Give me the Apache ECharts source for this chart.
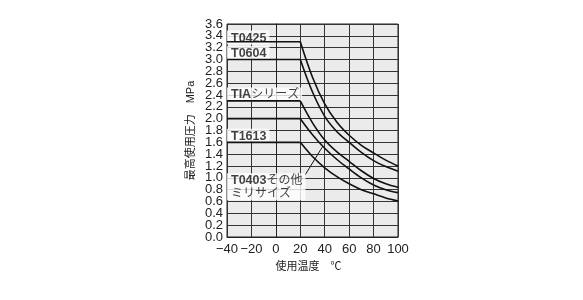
<!DOCTYPE html>
<html>
<head>
<meta charset="utf-8">
<script src="https://cdn.jsdelivr.net/npm/echarts@6/dist/echarts.min.js"></script>
<style>
html,body{margin:0;padding:0;background:#fff;}
#c{width:583px;height:300px;}
</style>
</head>
<body>
<div id="c"></div>
<script>
// ---- data ----
const xTicks = [-40, -20, 0, 20, 40, 60, 80, 100];
const yMin = 0, yMax = 3.6, yStep = 0.2;
const flatTemps = [-40, 20];
const curveTemps = [20, 30, 40, 50, 60, 70, 80, 90, 100];
const t0425 = [3.3, 2.7, 2.25, 1.94, 1.72, 1.55, 1.42, 1.3, 1.2];
const t0604 = [3.0, 2.45, 2.04, 1.78, 1.6, 1.43, 1.29, 1.19, 1.11];
const tia   = [2.3, 1.93, 1.64, 1.44, 1.28, 1.12, 0.99, 0.9, 0.84];
const t0403 = [2.0, 1.73, 1.5, 1.31, 1.15, 1.0, 0.88, 0.8, 0.75];
const t1613 = [1.6, 1.36, 1.17, 1.02, 0.9, 0.8, 0.73, 0.66, 0.61];
const curves = [t0425, t0604, tia, t0403, t1613];
// label texts and their anchor values [temp, pressure]
const labelTexts = ['{b|T0425}', '{b|T0604}', '{b|TIA}シリーズ', '{b|T1613}', '{b|T0403}その他\nミリサイズ'];
const labelAnchors = [[-40, 3.37], [-40, 3.11], [-40, 2.41], [-40, 1.71], [-40, 0.85]];
const leader = [[24, 1.05], [38, 1.52]];

const FONT = "'Liberation Sans', 'Noto Sans CJK JP', Arial, sans-serif";
const chart = echarts.init(document.getElementById('c'), null, {renderer: 'canvas'});

const series = [];
curves.forEach(function (arr) {
  series.push({
    type: 'line', z: 4, silent: true, symbol: 'none',
    lineStyle: {color: '#111', width: 1.6},
    data: flatTemps.map(function (t) { return [t, arr[0]]; })
  });
  series.push({
    type: 'line', z: 4, silent: true, symbol: 'none', smooth: 0.35,
    lineStyle: {color: '#111', width: 1.6},
    data: curveTemps.map(function (t, i) { return [t, arr[i]]; })
  });
});
series.push({
  type: 'line', z: 3, silent: true, symbol: 'none',
  lineStyle: {color: '#111', width: 1},
  data: leader
});
series.push({
  type: 'scatter', z: 3, silent: true, symbolSize: 0,
  data: labelAnchors.map(function (a, i) {
    return {value: a, label: {formatter: labelTexts[i]}};
  }),
  label: {
    show: true, position: 'right', distance: 0,
    backgroundColor: '#fff', padding: [1, 3, 0, 4],
    color: '#111', fontFamily: FONT, fontSize: 12, lineHeight: 13,
    rich: {b: {fontWeight: 'bold', fontSize: 12.5, fontFamily: FONT, color: '#111'}}
  }
});

const yLabelStyle = {margin: 4, color: '#222', fontSize: 13, fontFamily: FONT, hideOverlap: false};

chart.setOption({
  animation: false,
  backgroundColor: '#fff',
  grid: {left: 227, right: 185, top: 24, bottom: 63, show: true,
         backgroundColor: '#ebebeb', borderColor: '#222', borderWidth: 1},
  xAxis: {
    type: 'value', min: xTicks[0], max: xTicks[xTicks.length - 1], interval: 20,
    axisLine: {show: true, lineStyle: {color: '#222', width: 1}},
    axisTick: {show: false},
    splitLine: {show: true, lineStyle: {color: '#333', width: 1}},
    axisLabel: {margin: 6, color: '#222', fontSize: 13, fontFamily: FONT,
      showMinLabel: true, showMaxLabel: true, hideOverlap: false,
      formatter: function (v) { return v < 0 ? '\u2212' + Math.abs(v) : String(v); }},
    name: '使用温度　℃', nameLocation: 'middle', nameGap: 24,
    nameTextStyle: {color: '#222', fontSize: 11, fontFamily: FONT, padding: [0, 8, 0, 0]}
  },
  yAxis: [{
    type: 'value', min: yMin, max: yMax, interval: yStep, position: 'left',
    axisLine: {show: true, lineStyle: {color: '#222', width: 1}},
    axisTick: {show: false},
    splitLine: {show: true, lineStyle: {color: '#333', width: 1}},
    axisLabel: Object.assign({}, yLabelStyle, {showMinLabel: false, showMaxLabel: false,
      formatter: function (v) { return v.toFixed(1); }}),
    name: '最高使用圧力　MPa', nameLocation: 'middle', nameGap: 31,
    nameTextStyle: {color: '#222', fontSize: 11, fontFamily: FONT}
  }, {
    type: 'value', min: yMin, max: yMax, interval: yStep, position: 'left', offset: 0,
    axisLine: {show: false}, axisTick: {show: false}, splitLine: {show: false},
    axisLabel: Object.assign({}, yLabelStyle, {showMinLabel: true, showMaxLabel: true,
      formatter: function (v) {
        return (Math.abs(v - yMin) < 1e-6 || Math.abs(v - yMax) < 1e-6) ? v.toFixed(1) : '';
      }})
  }],
  series: series
});
</script>
</body>
</html>
